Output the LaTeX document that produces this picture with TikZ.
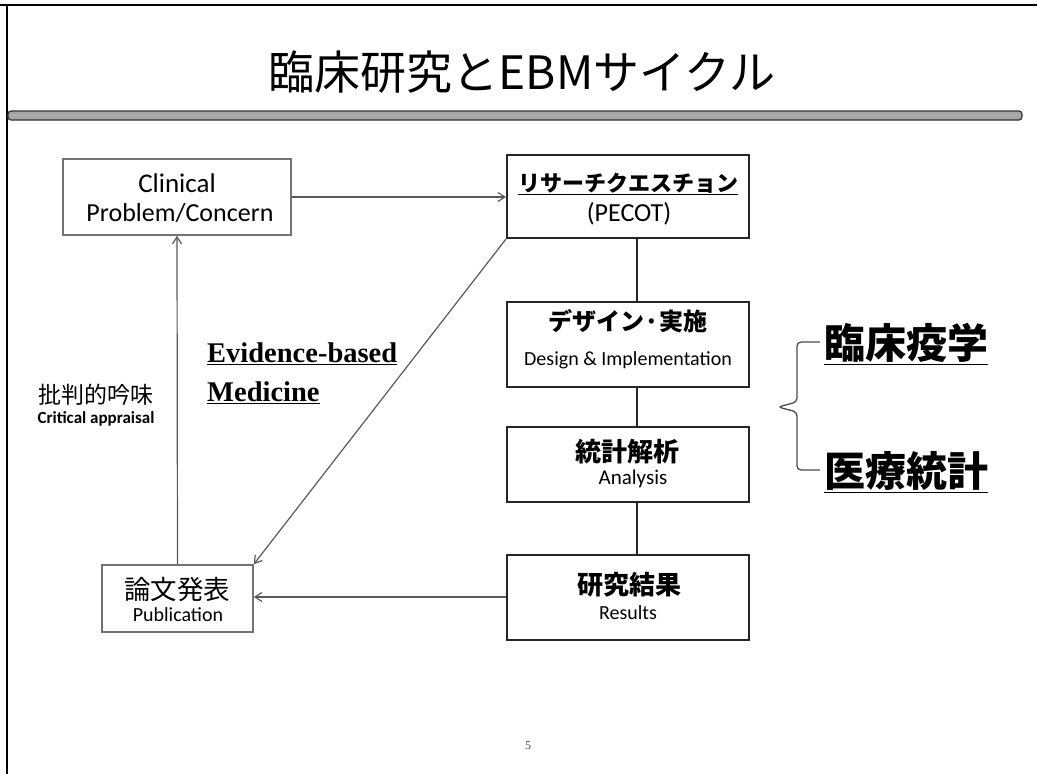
\documentclass[tikz,border=0pt]{standalone}
\usepackage{fontspec}
\setmainfont{Carlito}
\newfontfamily\jp{Noto Sans CJK JP}
\newfontfamily\tnr{Liberation Serif}
\usetikzlibrary{arrows.meta,calc}
\begin{document}
\begin{tikzpicture}[x=1pt,y=-1pt,
  lbox/.style={draw=black!55,line width=1.6pt,fill=white,inner sep=0pt},
  rbox/.style={draw=black!85,line width=2pt,fill=white,inner sep=0pt},
  arr/.style={draw=black!65,line width=1.2pt,-{Straight Barb[length=7pt,width=9pt]}},
  conn/.style={draw=black!85,line width=1.3pt},
  txt/.style={inner sep=0pt,align=center},
  jb/.style={txt,font=\jp\bfseries\fontsize{26}{30}\selectfont},
  en/.style={txt,font=\fontsize{20}{24}\selectfont}]
\useasboundingbox (0,0) rectangle (1037,774);
% frame
\draw[line width=2pt] (0,5) -- (1037,5);
\draw[line width=2.2pt] (7,5) -- (7,774);
% title
\node[txt,font=\jp\fontsize{46}{50}\selectfont] (title) at (522,72) {臨床研究とEBMサイクル};
\draw[draw=black!80,fill=black!35,line width=1.2pt,rounded corners=3pt] (8,111) rectangle (1022,120);
\draw[white!70!black,line width=0.8pt] (10,115.5) -- (1020,115.5);
% boxes
\node[lbox,minimum width=228,minimum height=76] (clin) at (177,197) {};
\node[rbox,minimum width=242,minimum height=83] (rq) at (628,196.5) {};
\node[rbox,minimum width=242,minimum height=85] (des) at (628,344.5) {};
\node[rbox,minimum width=242,minimum height=75] (ana) at (628,464.5) {};
\node[rbox,minimum width=242,minimum height=85] (res) at (628,597) {};
\node[lbox,minimum width=151,minimum height=67] (pub) at (177.5,598.5) {};
% box texts
\node[txt,font=\fontsize{27}{30}\selectfont] (clin1) at (177,183) {Clinical};
\node[txt,font=\fontsize{26}{30}\selectfont] (clin2) at (180,213) {Problem/Concern};
\node[txt,font=\jp\bfseries\fontsize{22}{26}\selectfont] (rq1) at (628,184) {\underline{リサーチクエスチョン}};
\node[txt,font=\fontsize{26}{30}\selectfont] (rq2) at (629,214) {(PECOT)};
\node[txt,font=\jp\bfseries\fontsize{24}{28}\selectfont] (des1) at (628,321) {デザイン·実施};
\node[en] (des2) at (628,360) {Design \& Implementation};
\node[jb] (ana1) at (627,452) {統計解析};
\node[txt,font=\fontsize{21}{24}\selectfont] (ana2) at (633,479) {Analysis};
\node[jb] (res1) at (629,585) {研究結果};
\node[en] (res2) at (628,613) {Results};
\node[txt,font=\jp\fontsize{26.5}{30}\selectfont] (pub1) at (177,589) {論文発表};
\node[en] (pub2) at (178,615) {Publication};
% connectors
\draw[arr] (clin.east) -- (rq.west |- clin.east);
\draw[conn] ([xshift=9pt]rq.south) -- ([xshift=9pt]des.north);
\draw[conn] ([xshift=9pt]des.south) -- ([xshift=9pt]ana.north);
\draw[conn] ([xshift=9pt]ana.south) -- ([xshift=9pt]res.north);
\draw[arr] (res.west) -- (pub.east |- res.west);
\draw[arr] (pub.north) -- (clin.south);
\draw[arr] (rq.south west) -- (pub.north east);
% labels
\node[txt,anchor=west,font=\tnr\bfseries\fontsize{28.5}{39}\selectfont,align=left] (ebm) at (207,373)
  {\underline{Evidence-based}\\\underline{Medicine}};
\node[txt,font=\jp\fontsize{23}{26}\selectfont] (crit) at (96,395) {批判的吟味};
\node[txt,font=\bfseries\fontsize{17}{20}\selectfont] (crite) at (96,419) {Critical appraisal};
% right side
\node[txt,anchor=west,font=\jp\bfseries\fontsize{41}{44}\selectfont] (epi) at (824,344) {\underline{臨床疫学}};
\node[txt,anchor=west,font=\jp\bfseries\fontsize{41}{44}\selectfont] (stat) at (824,472) {\underline{医療統計}};
\coordinate (tip) at (778,407);
\draw[draw=black!70,line width=1.3pt,rounded corners=4pt]
  ($(epi.west)+(-4,-2)$) -- (797,342) -- (797,402) -- (tip) -- (797,412) -- (797,470) -- ($(stat.west)+(-4,-2)$);
% page number
\node[txt,font=\tnr\fontsize{12}{14}\selectfont,text=black!70] (pg) at (528,746) {5};
\end{tikzpicture}
\end{document}
